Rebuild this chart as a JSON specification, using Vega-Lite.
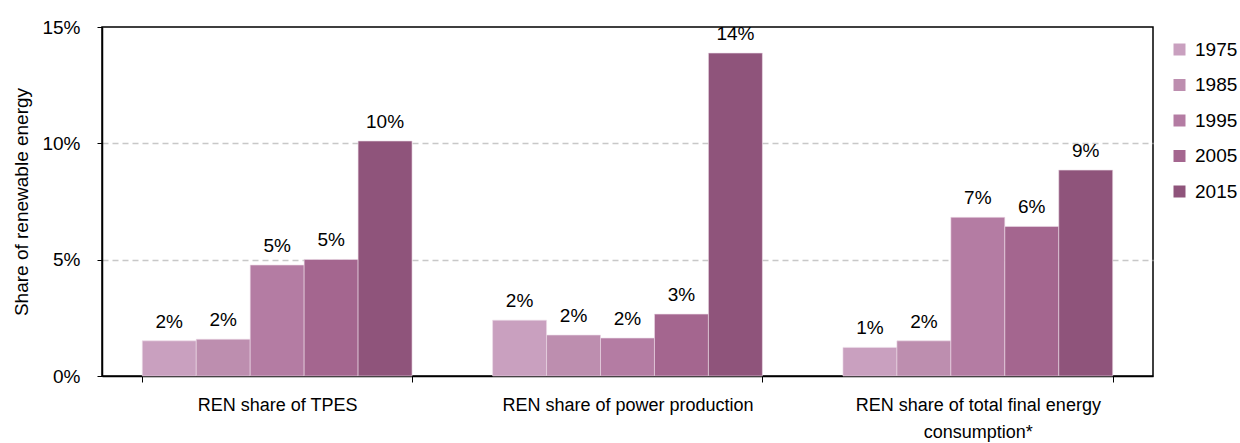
{
  "$schema": "https://vega.github.io/schema/vega-lite/v6.json",
  "autosize": "none",
  "width": 1051,
  "height": 349,
  "padding": {"left": 102, "top": 27, "right": 87, "bottom": 67},
  "config": {
    "font": "Liberation Sans",
    "view": {"stroke": "black", "strokeWidth": 1.5},
    "axis": {"labelColor": "black", "titleColor": "black", "labelFont": "Liberation Sans", "titleFont": "Liberation Sans"},
    "legend": {"labelFont": "Liberation Sans"}
  },
  "data": {
    "values": [
      {"category": "REN share of TPES", "year": "1975", "share": 0.0151},
      {"category": "REN share of TPES", "year": "1985", "share": 0.0158},
      {"category": "REN share of TPES", "year": "1995", "share": 0.0477},
      {"category": "REN share of TPES", "year": "2005", "share": 0.0501},
      {"category": "REN share of TPES", "year": "2015", "share": 0.101},
      {"category": "REN share of power production", "year": "1975", "share": 0.024},
      {"category": "REN share of power production", "year": "1985", "share": 0.0176},
      {"category": "REN share of power production", "year": "1995", "share": 0.0163},
      {"category": "REN share of power production", "year": "2005", "share": 0.0266},
      {"category": "REN share of power production", "year": "2015", "share": 0.1388},
      {"category": "REN share of total final energy consumption*", "year": "1975", "share": 0.0123},
      {"category": "REN share of total final energy consumption*", "year": "1985", "share": 0.0151},
      {"category": "REN share of total final energy consumption*", "year": "1995", "share": 0.0682},
      {"category": "REN share of total final energy consumption*", "year": "2005", "share": 0.0643},
      {"category": "REN share of total final energy consumption*", "year": "2015", "share": 0.0885}
    ]
  },
  "encoding": {
    "x": {
      "field": "category", "type": "nominal", "sort": null,
      "scale": {"paddingInner": 0.23, "paddingOuter": 0.115},
      "axis": {
        "title": null, "labelAngle": 0, "labelFontSize": 18, "labelPadding": 14, "labelLimit": 0,
        "tickBand": "extent", "tickColor": "black", "tickSize": 6,
        "domainColor": "black", "domainWidth": 1.5,
        "labelExpr": "datum.value == 'REN share of total final energy consumption*' ? ['REN share of total final energy', 'consumption*'] : datum.value",
        "labelLineHeight": 27
      }
    },
    "xOffset": {"field": "year", "type": "nominal", "scale": {"paddingInner": 0, "paddingOuter": 0}},
    "y": {
      "field": "share", "type": "quantitative",
      "scale": {"domain": [0, 0.15], "nice": false},
      "axis": {
        "title": "Share of renewable energy", "titleFontSize": 19, "titleFontWeight": "normal", "titlePadding": 10,
        "values": [0, 0.05, 0.1, 0.15], "format": ".0%",
        "labelFontSize": 19, "labelPadding": 17, "tickSize": 5, "tickColor": "black",
        "domainColor": "black", "domainWidth": 1.5,
        "grid": true, "gridColor": "#c8c8c8", "gridDash": [6, 4], "gridWidth": 1.5,
        "gridOpacity": {"condition": {"test": "datum.value > 0.01 && datum.value < 0.14", "value": 1}, "value": 0}
      }
    }
  },
  "layer": [
    {
      "mark": {"type": "bar", "stroke": "#ecdce8", "strokeWidth": 0.6},
      "encoding": {
        "color": {
          "field": "year", "type": "nominal",
          "scale": {"domain": ["1975", "1985", "1995", "2005", "2015"], "range": ["#c9a0bf", "#bd8eaf", "#b47ca3", "#a4668f", "#8f547b"]},
          "legend": {
            "title": null, "orient": "none", "legendX": 1068, "legendY": 13, "padding": 0,
            "symbolType": "square", "symbolSize": 144, "symbolStrokeWidth": 0,
            "labelFontSize": 19, "labelColor": "black", "rowPadding": 15.5, "labelOffset": 6
          }
        }
      }
    },
    {
      "mark": {"type": "text", "baseline": "alphabetic", "dy": -13, "fontSize": 19, "color": "black"},
      "encoding": {
        "text": {"field": "share", "type": "quantitative", "format": ".0%"}
      }
    }
  ]
}
